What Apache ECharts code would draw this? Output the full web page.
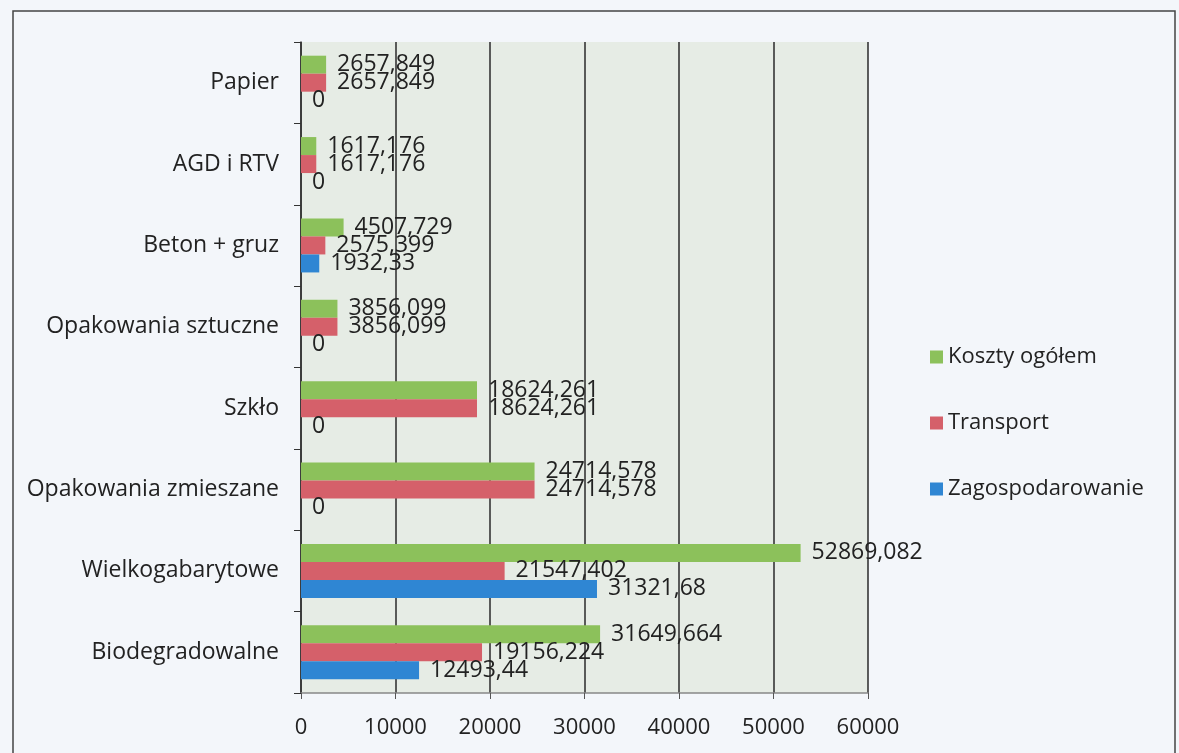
<!DOCTYPE html>
<html lang="pl">
<head>
    <meta charset="UTF-8">
    <title>koszty</title>
    <script src="https://cdn.jsdelivr.net/npm/echarts@6/dist/echarts.min.js"></script>
    <style>
        html, body { margin: 0; padding: 0; background: #f3f6fa; }
    </style>
</head>
<body>
<div id="main" style="width: 1179px;height:753px;"></div>
<script type="text/javascript">
    // dane z wykresu (od dołu do góry)
    var kategorie = ['Biodegradowalne', 'Wielkogabarytowe', 'Opakowania zmieszane', 'Szkło',
        'Opakowania sztuczne', 'Beton + gruz', 'AGD i RTV', 'Papier'];
    var zagospodarowanie = [12493.44, 31321.68, 0, 0, 0, 1932.33, 0, 0];
    var transport = [19156.224, 21547.402, 24714.578, 18624.261, 3856.099, 2575.399, 1617.176, 2657.849];
    var kosztyOgolem = [31649.664, 52869.082, 24714.578, 18624.261, 3856.099, 4507.729, 1617.176, 2657.849];
    var xTicks = [0, 10000, 20000, 30000, 40000, 50000, 60000];

    var font = 'Open Sans';
    var myChart = echarts.init(document.getElementById('main'));

    function etykieta() {
        return {
            show: true,
            position: 'right',
            distance: 11,
            fontFamily: font,
            fontSize: 23,
            color: '#222',
            formatter: function (p) { return String(p.value).replace('.', ','); }
        };
    }

    var option = {
        textStyle: { fontFamily: font },
        graphic: [{
            type: 'rect',
            shape: { x: 13, y: 11, width: 1162, height: 760 },
            style: { fill: 'none', stroke: '#444', lineWidth: 1.5 },
            silent: true
        }],
        legend: {
            orient: 'vertical',
            left: 925,
            top: 341,
            itemWidth: 13,
            itemHeight: 13,
            itemGap: 44,
            icon: 'rect',
            textStyle: { fontSize: 22, color: '#222', fontFamily: font },
            data: ['Koszty ogółem', 'Transport', 'Zagospodarowanie']
        },
        grid: {
            left: 301,
            right: 311,
            top: 42,
            bottom: 60,
            show: true,
            backgroundColor: '#e6ece5',
            borderWidth: 0
        },
        xAxis: {
            type: 'value',
            min: xTicks[0],
            max: xTicks[xTicks.length - 1],
            interval: 10000,
            axisLine: { show: true, lineStyle: { color: '#888', width: 1.5 } },
            axisTick: { show: true, length: 6, lineStyle: { color: '#555' } },
            splitLine: { show: true, lineStyle: { color: '#2a2a2a', width: 1.5 } },
            axisLabel: {
                fontSize: 22, color: '#222', margin: 24, fontFamily: font,
                formatter: function (v) { return String(v); }
            }
        },
        yAxis: {
            type: 'category',
            data: kategorie,
            axisLine: { show: true, lineStyle: { color: '#333', width: 1.5 } },
            axisTick: { show: true, length: 7, lineStyle: { color: '#333' } },
            axisLabel: { fontSize: 23, color: '#222', margin: 22, fontFamily: font }
        },
        series: [
            {
                name: 'Koszty ogółem',
                type: 'bar',
                data: kosztyOgolem,
                barWidth: 18,
                barGap: '0%',
                itemStyle: { color: '#8cc15b' },
                label: etykieta()
            },
            {
                name: 'Transport',
                type: 'bar',
                data: transport,
                barWidth: 18,
                barGap: '0%',
                itemStyle: { color: '#d5606a' },
                label: etykieta()
            },
            {
                name: 'Zagospodarowanie',
                type: 'bar',
                data: zagospodarowanie,
                barWidth: 18,
                barGap: '0%',
                itemStyle: { color: '#2f86d3' },
                label: etykieta()
            }
        ]
    };
    myChart.setOption(option);
</script>
</body>
</html>
